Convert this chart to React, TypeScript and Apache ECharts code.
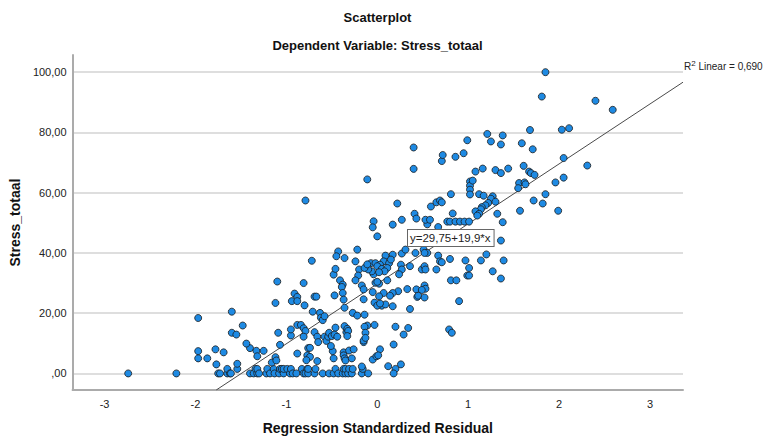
import React, { useEffect, useRef } from "react";
import * as echarts from "echarts";

// ---- axis / tick data ----
const yTicks = [0, 20, 40, 60, 80, 100];
const xTicks = [-3, -2, -1, 0, 1, 2, 3];
const xRange = [-3.352, 3.363];
const yRange = [-5.5, 105.7];

// fitted line (from the chart's own annotation)
const fitIntercept = 29.75;
const fitSlope = 19.9;
const fitLabel = "y=29,75+19,9*x";
const r2Label = "R{sup|2} Linear = 0,690";

// ---- data: [Regression Standardized Residual, Stress_totaal] ----
const pointsLowLeft = [
  [-2.74, 0], [-2.21, 0],
  [-1.97, 7.4], [-1.97, 5.0], [-1.87, 5.0], [-1.78, 8.0], [-1.77, 3.0], [-1.69, 7.0],
  [-1.75, 0], [-1.73, 0], [-1.65, 0], [-1.65, 1.5], [-1.62, 0], [-1.61, 0], [-1.54, 1.5], [-1.54, 3.2],
  [-1.40, 8.4], [-1.33, 7.5], [-1.25, 7.5], [-1.32, 5.7],
  [-1.40, 0], [-1.36, 0], [-1.34, 1.5], [-1.32, 0], [-1.32, 1.5], [-1.30, 0], [-1.22, 0], [-1.21, 1.5],
  [-1.18, 0], [-1.14, 1.5], [-1.13, 0], [-1.08, 0], [-1.07, 1.5], [-1.05, 1.5], [-1.03, 0], [-1.03, 1.5],
  [-1.16, 3.6], [-1.12, 5.4], [-1.11, 4.3],
  [-0.99, 1.5], [-0.96, 0], [-0.95, 1.5], [-0.93, 0], [-0.89, 0], [-0.83, 1.5], [-0.81, 0], [-0.79, 0],
  [-0.77, 1.5], [-0.76, 0], [-0.76, 1.5], [-0.69, 0], [-0.68, 1.5], [-0.60, 0], [-0.53, 0],
  [-0.88, 6.6], [-0.77, 6.0], [-0.76, 8.4], [-0.74, 5.5], [-0.78, 4.4], [-0.66, 4.1],
  [-0.48, 0], [-0.46, 1.5], [-0.43, 0], [-0.38, 0], [-0.37, 1.5], [-0.35, 0], [-0.35, 1.5], [-0.32, 0],
  [-0.31, 1.5], [-0.28, 0], [-0.27, 1.5], [-0.17, 0], [-0.16, 1.5], [-0.10, 0],
  [-0.49, 7.4], [-0.48, 5.0], [-0.37, 7.0], [-0.37, 6.0], [-0.36, 5.0], [-0.35, 4.3], [-0.31, 7.6],
  [-0.28, 5.0], [-0.17, 2.3], [-0.05, 4.6], [-0.01, 5.7],
];

const pointsMidLeft = [
  [-1.97, 18.4], [-1.60, 20.5], [-1.60, 13.5], [-1.55, 12.9], [-1.48, 15.9], [-1.44, 9.9],
  [-1.10, 30.5], [-1.12, 23.4], [-1.09, 13.5], [-1.07, 9.5],
  [-0.95, 12.6], [-0.95, 14.6], [-0.94, 24], [-0.91, 26.5], [-0.88, 25.4], [-0.88, 24], [-0.88, 16.1],
  [-0.84, 16.1], [-0.81, 30], [-0.80, 22.6], [-0.81, 15.0], [-0.79, 14.1], [-0.81, 12.2], [-0.72, 37.4],
  [-0.71, 20.5], [-0.69, 25.5], [-0.67, 25.5], [-0.69, 13.7], [-0.66, 12.2], [-0.65, 10.4], [-0.63, 20.1],
  [-0.62, 18.5], [-0.60, 17.7], [-0.58, 19], [-0.58, 12.2], [-0.56, 10.8], [-0.54, 12.2], [-0.53, 13.5],
  [-0.74, 8.5],
  [-0.51, 9.1], [-0.50, 12.4], [-0.47, 12.9], [-0.46, 15.2], [-0.36, 15.7], [-0.34, 13.7],
  [-0.33, 14.8], [-0.32, 14.1], [-0.44, 12.2], [-0.33, 12.4],
  [-0.27, 20.1], [-0.22, 19.2], [-0.14, 19.5], [-0.11, 15.9], [-0.14, 15.5], [-0.13, 13.5], [-0.15, 10.4],
  [-0.15, 10.9], [-0.26, 8.0], [-0.03, 16.1], [-0.13, 11.8], [-0.15, 24.6], [-0.03, 23.5], [-0.05, 27],
  [-0.02, 30.1],
  [-0.48, 32.8], [-0.46, 34.7], [-0.41, 30.9], [-0.38, 29.5], [-0.39, 28.7], [-0.38, 26.7], [-0.37, 24.5],
  [-0.36, 21.8], [-0.47, 25.9], [-0.43, 40.5], [-0.45, 38.9], [-0.36, 38.3],
  [-0.22, 41.1], [-0.24, 37.2], [-0.20, 34.5], [-0.21, 32.5], [-0.24, 30.9], [-0.17, 29.2], [-0.15, 27.9],
  [-0.04, 32.9], [-0.06, 33.9], [-0.10, 34.5], [-0.14, 35], [-0.07, 36.6], [-0.02, 36.6], [-0.11, 36.2],
];

const pointsHighLeft = [
  [-0.79, 57.4], [-0.11, 64.4], [-0.04, 50.5], [-0.05, 48.5], [0.0, 45.5],
];

const pointsCentre = [
  [0.17, 49.4], [0.27, 51], [0.22, 56.4], [0.41, 53], [0.43, 51.4],
  [0.40, 75], [0.40, 67.9],
  [0.26, 36.1], [0.27, 34.5], [0.24, 32.9], [0.17, 39.4], [0.09, 39.1], [0.07, 37.2], [0.13, 36.6],
  [0.15, 37.8], [0.03, 36.1], [0.0, 35.6], [0.05, 34.7], [0.11, 35.0], [0.08, 33.9], [0.02, 33.6],
  [0.27, 39.8], [0.31, 41.1], [0.42, 40], [0.36, 35.6], [0.33, 28], [0.44, 25.4],
  [0.23, 27.3], [0.17, 26.7], [0.14, 25.8], [0.43, 27.9], [0.36, 21.4],
  [0.05, 22.5], [0.09, 22.9], [0.17, 22.3], [0.0, 22.5], [0.03, 23.2], [0.07, 26.7], [0.02, 25.6],
  [0.11, 30.9], [0.02, 29.8], [0.0, 30.4],
  [0.20, 15.5], [0.18, 9.6], [0.29, 12.9], [0.34, 15.1], [0.03, 8],
  [0.01, 6], [0.12, 2.4], [0.20, 1.5], [0.26, 3], [0.18, 0],
];

const pointsLowRight = [
  [0.49, 34.5], [0.52, 35.6], [0.53, 34.5], [0.51, 41.1], [0.55, 40], [0.52, 40],
  [0.52, 29.2], [0.53, 28.1], [0.49, 27.7], [0.45, 25.8], [0.52, 25.2],
  [0.65, 34.5], [0.67, 39.1], [0.69, 37.2], [0.71, 36.9],
  [0.80, 38], [0.81, 30.9], [0.87, 30.9],
  [0.90, 24], [0.97, 37.5], [0.99, 32.5], [1.01, 32.5], [1.01, 35], [1.14, 37.5], [1.20, 39.5],
  [1.27, 33.9], [1.36, 31.5], [1.39, 37.5], [1.36, 44.1],
  [0.79, 14.6], [0.82, 13.5],
  [0.67, 48.6], [0.55, 49.5],
];

const pointsHighRight = [
  [0.53, 51], [0.58, 51], [0.59, 55.4], [0.65, 56.8], [0.69, 57.4], [0.71, 56.8], [0.83, 53.1], [0.81, 59.5],
  [0.77, 50.4], [0.80, 50.4], [0.86, 50.4], [0.91, 50.4], [0.96, 50.4], [1.01, 50.4],
  [0.71, 70.5], [0.72, 72.5], [0.86, 71.9], [0.95, 73.1], [0.99, 77.4],
  [1.02, 63.7], [1.02, 62.3], [1.02, 61], [1.02, 59.4], [1.05, 64], [1.08, 67], [1.16, 68], [1.30, 67.5],
  [1.36, 66.5], [1.44, 68],
  [1.12, 59.5], [1.17, 59], [1.27, 58.8], [1.25, 58], [1.30, 57], [1.22, 56.6], [1.19, 55.8], [1.15, 55.2],
  [1.14, 54.5], [1.08, 53.8], [1.12, 53], [1.10, 52.4], [1.32, 53], [1.38, 50.2],
  [1.21, 79.5], [1.25, 77], [1.38, 79], [1.36, 76],
  [1.56, 63.2], [1.62, 63.4], [1.63, 62.8], [1.55, 61.5], [1.61, 68.9], [1.67, 67], [1.69, 66.5], [1.73, 65.9],
  [1.59, 76.4], [1.71, 74.4], [1.68, 80.8], [1.81, 91.9], [1.85, 100],
  [1.57, 54], [1.99, 54], [1.82, 56.4], [1.72, 57.4], [1.85, 59.5], [1.96, 63.4], [2.05, 65], [2.05, 71.5],
  [2.31, 69], [2.03, 80.9], [2.11, 81.4], [2.40, 90.5], [2.59, 87.5],
];

const FONT = "'Liberation Sans', Arial, sans-serif";

function fmtY(v: number) {
  if (v === 0) return ",00";
  return v.toFixed(2).replace(".", ",");
}

export default function App() {
  const ref = useRef<HTMLDivElement>(null);
  useEffect(() => {
    if (!ref.current) return;
    const chart = echarts.init(ref.current, undefined, { renderer: "svg" });
    const allPoints = [
      ...pointsLowLeft, ...pointsMidLeft, ...pointsHighLeft,
      ...pointsCentre, ...pointsLowRight, ...pointsHighRight,
    ];
    const fit = (x: number) => fitIntercept + fitSlope * x;
    const xStart = (yRange[0] - fitIntercept) / fitSlope;
    const lineData = [[xStart, fit(xStart)], [xRange[1], fit(xRange[1])]];

    chart.setOption({
      animation: false,
      textStyle: { fontFamily: FONT },
      grid: { left: 72, right: 81, top: 55, bottom: 51, containLabel: false },
      xAxis: {
        type: "value",
        min: xRange[0],
        max: xRange[1],
        axisLine: { show: true, onZero: false, lineStyle: { color: "#ababab", width: 2 } },
        axisTick: { show: false, customValues: xTicks },
        axisLabel: { customValues: xTicks, color: "#222", fontSize: 11, margin: 8, fontFamily: FONT },
        splitLine: { show: false },
        name: "Regression Standardized Residual",
        nameLocation: "middle",
        nameGap: 31,
        nameTextStyle: { fontWeight: "bold", fontSize: 14, color: "#111", fontFamily: FONT },
      },
      yAxis: {
        type: "value",
        min: yRange[0],
        max: yRange[1],
        axisLine: { show: true, onZero: false, lineStyle: { color: "#ababab", width: 2 } },
        axisTick: { show: false, customValues: yTicks },
        axisLabel: { customValues: yTicks, formatter: fmtY, color: "#222", fontSize: 11, margin: 6, fontFamily: FONT },
        splitLine: { show: true, lineStyle: { color: "#d3d3d3", width: 1.5 } },
        name: "Stress_totaal",
        nameLocation: "middle",
        nameGap: 45,
        nameTextStyle: { fontWeight: "bold", fontSize: 14, color: "#111", fontFamily: FONT },
      },
      series: [
        {
          type: "line",
          data: lineData,
          symbol: "none",
          lineStyle: { color: "#4a4a4a", width: 1 },
          silent: true,
          z: 1,
        },
        {
          type: "scatter",
          data: allPoints,
          symbol: "circle",
          symbolSize: 7,
          itemStyle: { color: "#1e8ae3", borderColor: "#1b1b1b", borderWidth: 0.8, opacity: 1 },
          z: 3,
        },
      ],
      graphic: [
        {
          type: "text",
          x: 377.5,
          y: 17,
          style: {
            text: "Scatterplot",
            font: `bold 13px ${FONT}`,
            fill: "#111",
            align: "center",
            verticalAlign: "middle",
            textAlign: "center",
            textVerticalAlign: "middle",
          },
        },
        {
          type: "text",
          x: 377.5,
          y: 45,
          style: {
            text: "Dependent Variable: Stress_totaal",
            font: `bold 13px ${FONT}`,
            fill: "#111",
            align: "center",
            verticalAlign: "middle",
            textAlign: "center",
            textVerticalAlign: "middle",
          },
        },
        {
          type: "text",
          x: 684,
          y: 66,
          style: {
            text: r2Label,
            font: `10px ${FONT}`,
            fill: "#222",
            align: "left",
            verticalAlign: "middle",
            textAlign: "left",
            textVerticalAlign: "middle",
            rich: {
              sup: { fontSize: 8, fill: "#222", padding: [0, 0, 5, 0], fontFamily: FONT },
            },
          },
        },
        {
          type: "text",
          x: 408,
          y: 238,
          z: 10,
          style: {
            text: fitLabel,
            font: `11.5px ${FONT}`,
            fill: "#222",
            align: "left",
            verticalAlign: "middle",
            textAlign: "left",
            textVerticalAlign: "middle",
            backgroundColor: "#ffffff",
            borderColor: "#666",
            borderWidth: 1,
            padding: [2, 3, 2, 2],
          },
        },
      ],
    });
    return () => chart.dispose();
  }, []);
  return (
    <div
      ref={ref}
      style={{ position: "fixed", left: 0, top: 0, width: 764, height: 441, background: "#fff" }}
    />
  );
}
